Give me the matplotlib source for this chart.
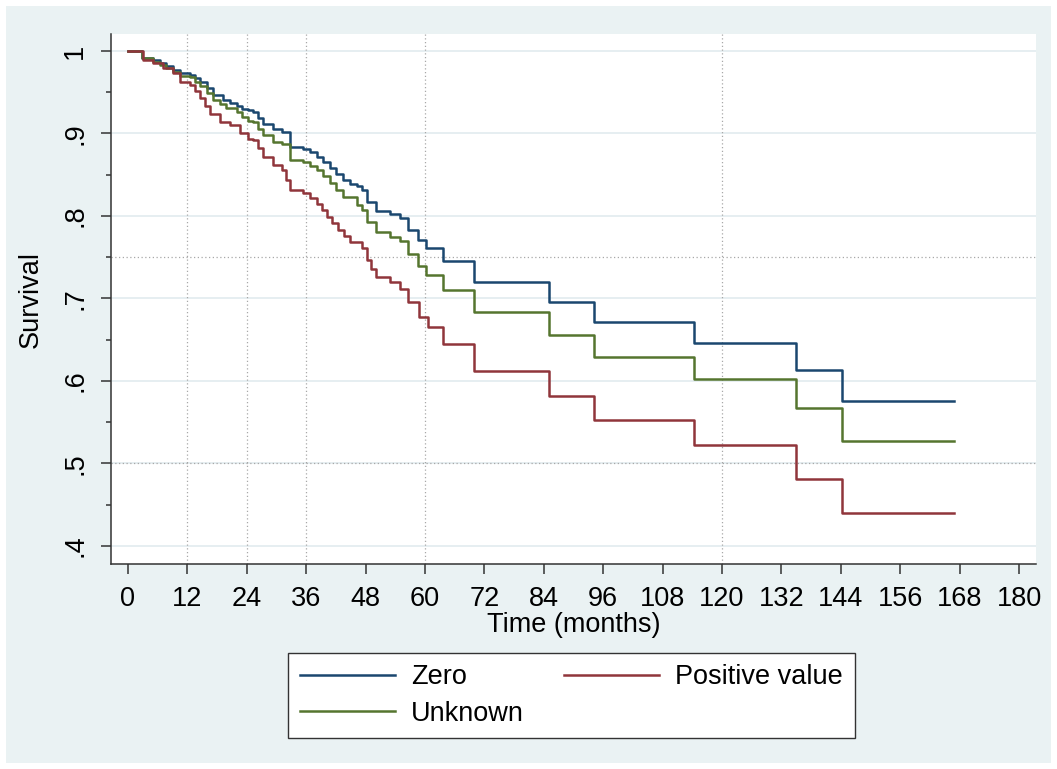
import matplotlib.pyplot as plt
import matplotlib.patches as mpatches
import numpy as np

plt.rcParams['font.family'] = ['Liberation Sans', 'DejaVu Sans']

# Kaplan-Meier estimates (time in months, survival)
t_zero = [0, 2.8, 5.0, 6.5, 7.8, 9.2, 10.5, 12.5, 13.5, 14.5, 15.9, 17.2, 19.2, 20.6, 22.0,
          23.1, 24.2, 25.3, 26.3, 27.3, 29.3, 31.1, 32.7, 35.4, 36.8, 38.2, 39.5, 40.8, 42.1,
          43.4, 44.8, 46.3, 47.2, 48.2, 50.2, 52.9, 55.0, 56.6, 58.6, 60.3, 63.6, 69.9, 85.0,
          94.1, 114.3, 134.9, 144.2, 166.9]
s_zero = [1.0, 0.992, 0.989, 0.986, 0.982, 0.977, 0.973, 0.971, 0.967, 0.963, 0.955, 0.947,
          0.941, 0.937, 0.933, 0.930, 0.928, 0.926, 0.919, 0.912, 0.905, 0.902, 0.884, 0.881,
          0.877, 0.872, 0.865, 0.858, 0.851, 0.844, 0.839, 0.836, 0.832, 0.817, 0.806, 0.802,
          0.798, 0.783, 0.771, 0.761, 0.745, 0.720, 0.696, 0.671, 0.646, 0.613, 0.576, 0.576]

t_unknown = [0, 2.8, 5.0, 6.5, 7.8, 9.2, 10.5, 12.5, 13.5, 14.5, 15.9, 17.2, 18.6, 19.9, 22.0,
             23.1, 24.2, 25.3, 26.3, 27.3, 29.3, 31.1, 32.7, 35.4, 36.8, 38.2, 39.5, 40.8, 42.1,
             43.4, 46.3, 47.2, 48.2, 50.2, 52.9, 55.0, 56.6, 58.6, 60.3, 63.6, 69.9, 85.0, 94.1,
             114.3, 134.9, 144.2, 166.9]
s_unknown = [1.0, 0.992, 0.987, 0.983, 0.979, 0.975, 0.970, 0.968, 0.962, 0.957, 0.949, 0.941,
             0.936, 0.931, 0.926, 0.920, 0.915, 0.914, 0.906, 0.898, 0.890, 0.887, 0.868, 0.865,
             0.861, 0.856, 0.848, 0.840, 0.831, 0.823, 0.813, 0.807, 0.793, 0.780, 0.774, 0.770,
             0.754, 0.739, 0.728, 0.710, 0.684, 0.656, 0.629, 0.602, 0.567, 0.527, 0.527]

t_pos = [0, 3.0, 5.0, 7.1, 9.1, 10.5, 12.5, 13.5, 14.5, 15.5, 16.6, 18.6, 20.6, 22.6, 24.2,
         25.3, 26.3, 27.3, 29.3, 31.1, 32.0, 32.7, 35.4, 36.8, 38.2, 39.2, 40.2, 41.3, 42.5,
         43.6, 44.8, 47.2, 48.2, 49.2, 50.2, 52.9, 55.0, 56.6, 58.8, 60.6, 63.6, 69.9, 85.0,
         94.1, 114.3, 134.9, 144.2, 166.9]
s_pos = [1.0, 0.989, 0.986, 0.979, 0.973, 0.963, 0.959, 0.951, 0.943, 0.933, 0.924, 0.914,
         0.910, 0.900, 0.893, 0.892, 0.882, 0.872, 0.862, 0.856, 0.844, 0.832, 0.828, 0.822,
         0.815, 0.807, 0.799, 0.791, 0.783, 0.776, 0.769, 0.761, 0.747, 0.736, 0.726, 0.720,
         0.712, 0.696, 0.678, 0.665, 0.645, 0.612, 0.582, 0.552, 0.522, 0.481, 0.440, 0.440]

xticks = np.arange(0, 181, 12)
yticks = [0.4, 0.5, 0.6, 0.7, 0.8, 0.9, 1.0]
ylabels = ['.4', '.5', '.6', '.7', '.8', '.9', '1']
xlines = [12, 24, 36, 60, 120]
ylines = [0.5, 0.75]

W, H = 1057, 769
fig = plt.figure(figsize=(W / 100, H / 100), dpi=100, facecolor='white')
# stata graph region
fig.patches.append(mpatches.Rectangle((6 / W, 6 / H), (W - 12) / W, (H - 12) / H,
                                      transform=fig.transFigure, facecolor='#EAF2F3',
                                      edgecolor='none', zorder=-5))

ax = fig.add_axes([111 / W, (H - 564) / H, (1036 - 111) / W, (564 - 34) / H])
ax.set_facecolor('white')

for y in yticks:
    ax.axhline(y, color='#E4EDF0', lw=1.3, zorder=1)
for x in xlines:
    ax.axvline(x, color='#A8A8A8', lw=0.9, ls=(0, (1, 2)), zorder=2)
for y in ylines:
    ax.axhline(y, color='#A8A8A8', lw=0.9, ls=(0, (1, 2)), zorder=2)

ax.step(t_zero, s_zero, where='post', color='#1A476F', lw=1.8, label='Zero', zorder=3)
ax.step(t_unknown, s_unknown, where='post', color='#55752F', lw=1.8, label='Unknown', zorder=3)
ax.step(t_pos, s_pos, where='post', color='#90353B', lw=1.8, label='Positive value', zorder=3)

ax.set_xlim(-3.4, 183.4)
ax.set_ylim(0.378, 1.0206)

for side in ['top', 'right']:
    ax.spines[side].set_visible(False)
for side in ['left', 'bottom']:
    ax.spines[side].set_color('#333333')
    ax.spines[side].set_linewidth(1.1)

ax.set_xticks(xticks)
ax.set_xticklabels([str(v) for v in xticks])
ax.set_yticks(yticks)
ax.set_yticklabels(ylabels, rotation=90, va='center')
ax.set_yticks(np.arange(0.45, 1.0, 0.1), minor=True)
ax.tick_params(axis='both', which='major', length=7.5, width=1.1, color='#333333',
               labelsize=19.5, labelcolor='black')
ax.tick_params(axis='x', pad=8)
ax.tick_params(axis='y', pad=9)
ax.tick_params(axis='y', which='minor', length=3.8, width=1.1, color='#333333')

ax.set_xlabel('Time (months)', fontsize=19.5, labelpad=0)
ax.set_ylabel('Survival', fontsize=19.5, labelpad=13)

handles, labels = ax.get_legend_handles_labels()
leg = fig.legend(handles, labels,
                 loc='center', bbox_to_anchor=(571.5 / W, 1 - 695.5 / H), ncol=2,
                 fontsize=19.5, frameon=True, fancybox=False, framealpha=1,
                 handlelength=3.5, handletextpad=0.6, columnspacing=1.5,
                 labelspacing=0.38, borderpad=0.42, borderaxespad=0)
leg.get_frame().set_edgecolor('#333333')
leg.get_frame().set_linewidth(1.0)
leg.get_frame().set_facecolor('white')

fig.savefig('out.png', dpi=100, facecolor=fig.get_facecolor())
